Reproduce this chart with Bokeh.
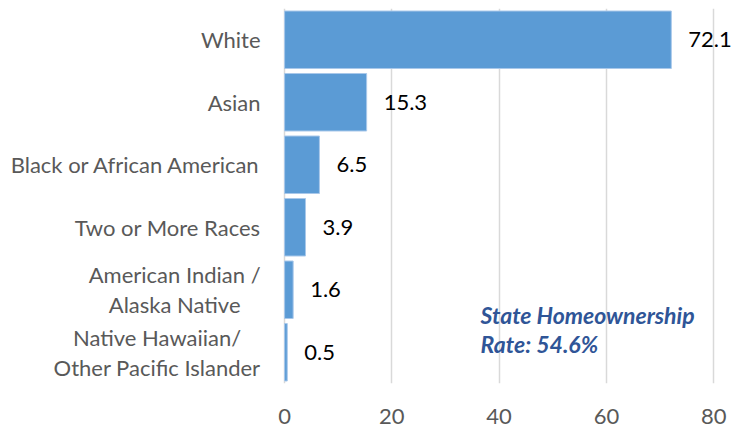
from bokeh.plotting import figure
from bokeh.models import ColumnDataSource, Label, FactorRange, FixedTicker, Range1d
from bokeh.embed import file_html
from bokeh.resources import INLINE
from bokeh.core.properties import value

categories = ["White", "Asian", "Black or African American", "Two or More Races",
              "American Indian /\nAlaska Native", "Native Hawaiian/\nOther Pacific Islander"]
values = [72.1, 15.3, 6.5, 3.9, 1.6, 0.5]
value_labels = ["72.1", "15.3", "6.5", "3.9", "1.6", "0.5"]
x_ticks = [0, 20, 40, 60, 80]
note = "State Homeownership\nRate: 54.6%"

FONT = "Lato"
src = ColumnDataSource(dict(cat=categories, val=values, lab=value_labels,
                            zero=[0] * len(values)))

p = figure(y_range=FactorRange(*reversed(categories)), x_range=Range1d(-52.96, 85.0),
           width=740, height=428, output_backend="svg", toolbar_location=None,
           min_border_left=0, min_border_right=0, min_border_top=8, min_border_bottom=45)
p.outline_line_color = None

p.hbar(y="cat", right="val", left=0, height=0.92, source=src,
       fill_color="#5B9BD5", line_color="#A9C8EA", line_width=1)
p.text(x="val", y="cat", text="lab", source=src, x_offset=17,
       text_align="left", text_baseline="middle", text_color="black",
       text_font=value(FONT), text_font_size="22px")
# category labels (centered lines, block right-aligned next to the axis)
p.text(x="zero", y="cat", text="cat", source=src, x_offset=-24,
       anchor="center_right", text_align="center", text_baseline="middle",
       text_color="#595959", text_font=value(FONT), text_font_size="22px",
       text_line_height=1.1)

p.add_layout(Label(x=36.55, y=1.32, text=note, text_font=FONT, text_font_size="23px",
                   text_font_style="bold italic", text_color="#2F5597",
                   text_baseline="top", text_align="left", text_line_height=1.05))

p.xaxis.ticker = FixedTicker(ticks=x_ticks)
p.xaxis.axis_line_color = None
p.xaxis.major_tick_line_color = None
p.xaxis.minor_tick_line_color = None
p.xaxis.major_label_text_font = FONT
p.xaxis.major_label_text_font_size = "22px"
p.xaxis.major_label_text_color = "#595959"
p.xaxis.major_label_standoff = 19

p.yaxis.visible = False

p.xgrid.ticker = FixedTicker(ticks=x_ticks)
p.xgrid.grid_line_color = "#D9D9D9"
p.xgrid.grid_line_width = 1.5
p.ygrid.grid_line_color = None

open("out.html", "w").write(file_html(p, INLINE))
